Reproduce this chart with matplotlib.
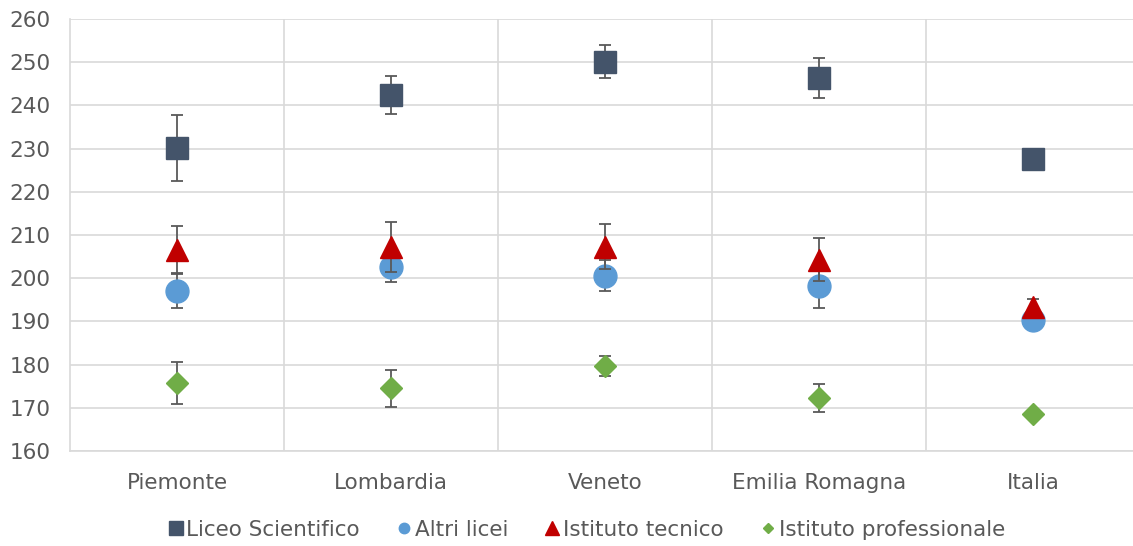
import matplotlib
matplotlib.use("Agg")
import matplotlib.pyplot as plt
from matplotlib.ticker import FixedLocator
import numpy as np

plt.rcParams['font.family'] = ['DejaVu Sans']

regions = ["Piemonte", "Lombardia", "Veneto", "Emilia Romagna", "Italia"]

liceo_scientifico = [230.1, 242.4, 250.1, 246.3, 227.6]
liceo_scientifico_err = [7.7, 4.3, 3.8, 4.7, 1.0]

altri_licei = [197.1, 202.7, 200.6, 198.2, 190.3]
altri_licei_err = [3.9, 3.5, 3.5, 5.0, 1.0]

istituto_tecnico = [206.6, 207.3, 207.3, 204.3, 193.3]
istituto_tecnico_err = [5.5, 5.8, 5.2, 4.9, 2.0]

istituto_professionale = [175.8, 174.5, 179.7, 172.3, 168.5]
istituto_professionale_err = [4.9, 4.2, 2.3, 3.2, 0.8]

# name, values, errors, marker, plot marker size, legend marker size, colour
series = [
    ("Liceo Scientifico", liceo_scientifico, liceo_scientifico_err, "s", 16.5, 9.5, "#44546A"),
    ("Altri licei", altri_licei, altri_licei_err, "o", 16.5, 7.5, "#5B9BD5"),
    ("Istituto tecnico", istituto_tecnico, istituto_tecnico_err, "^", 16.5, 9.5, "#C00000"),
    ("Istituto professionale", istituto_professionale, istituto_professionale_err, "D", 11.3, 5.6, "#70AD47"),
]

text_color = "#595959"
grid_color = "#D9D9D9"

fig = plt.figure(figsize=(11.33, 5.46), dpi=100)
ax = fig.add_axes([70 / 1133, 95 / 546, 1070 / 1133, 432 / 546])

x = np.arange(len(regions))
for i, (name, vals, errs, marker, ms, lms, color) in enumerate(series):
    z = 3 + 2 * i
    ax.errorbar(x, vals, yerr=errs, fmt="none", ecolor=text_color,
                elinewidth=1.3, capsize=4.3, capthick=1.3, zorder=z)
    ax.plot(x, vals, linestyle="none", marker=marker, markersize=ms,
            color=color, markeredgecolor=color, zorder=z + 1, label=name)

ax.set_xlim(-0.5, len(regions) - 0.5)
ax.set_ylim(160, 260)
ax.set_yticks(np.arange(160, 261, 10))
ax.set_xticks(x)
ax.set_xticklabels(regions)
ax.xaxis.set_minor_locator(FixedLocator(np.arange(0.5, len(regions) - 0.5, 1)))

ax.grid(axis="y", which="major", color=grid_color, linewidth=1.2, zorder=0)
ax.grid(axis="x", which="minor", color=grid_color, linewidth=1.2, zorder=0)
ax.set_axisbelow(True)

for side in ["top", "right"]:
    ax.spines[side].set_visible(False)
for side in ["left", "bottom"]:
    ax.spines[side].set_color(grid_color)
    ax.spines[side].set_linewidth(1.2)

ax.tick_params(axis="both", which="both", length=0, labelsize=15.5, labelcolor=text_color)
ax.tick_params(axis="y", pad=14)
ax.tick_params(axis="x", pad=16)

leg_handles = [
    plt.Line2D([], [], linestyle="none", marker=marker, markersize=lms, color=color)
    for (name, vals, errs, marker, ms, lms, color) in series
]
fig.legend(leg_handles, [s[0] for s in series], loc="center",
           bbox_to_anchor=(587 / 1133, 1 - 530 / 546), ncol=4, frameon=False,
           fontsize=15.5, labelcolor=text_color, handlelength=0.6,
           handletextpad=0.2, columnspacing=1.75)

fig.savefig("out.png", dpi=100)
